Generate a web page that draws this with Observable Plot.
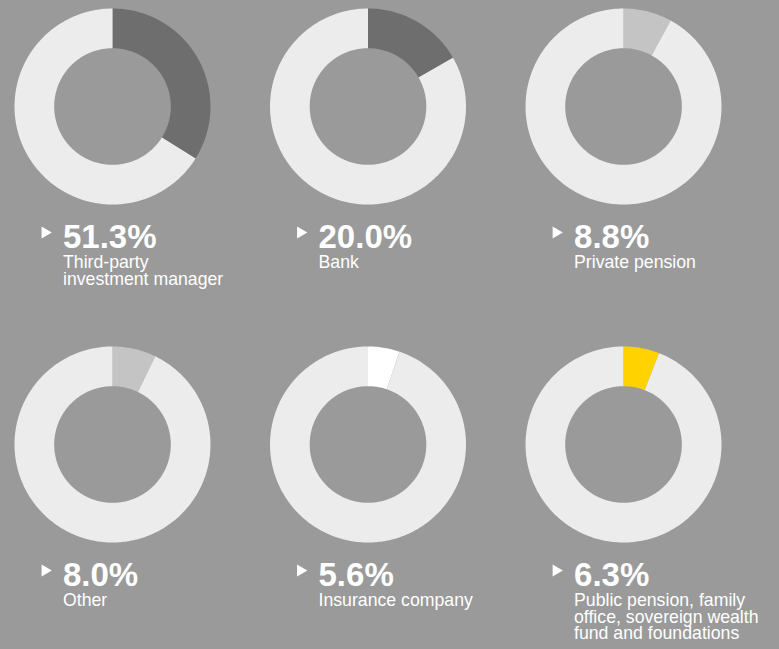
<!DOCTYPE html>
<html>
<head>
<meta charset="utf-8">
<script src="https://cdn.jsdelivr.net/npm/d3@7"></script>
<script src="https://cdn.jsdelivr.net/npm/@observablehq/plot@0.6"></script>
<style>
  html, body { margin: 0; padding: 0; background: #9a9a9a; }
  #chart svg { display: block; }
</style>
</head>
<body>
<div id="chart"></div>
<script>
// Categories (label text under each donut)
const categories = [
  "Third-party\ninvestment manager",
  "Bank",
  "Private pension",
  "Other",
  "Insurance company",
  "Public pension, family\noffice, sovereign wealth\nfund and foundations"
];
// Percentages printed under each donut
const values = [51.3, 20.0, 8.8, 8.0, 5.6, 6.3];
// Share of the ring covered by the highlighted arc, as drawn in the picture (%)
const arcShares = [33.9, 16.7, 8.0, 7.2, 5.2, 5.9];
// Highlight colour of each donut
const segmentColors = ["#6e6e6e", "#6e6e6e", "#c4c4c4", "#c4c4c4", "#ffffff", "#ffd200"];
const ringColor = "#ececec";

const COLS = 3;
const INNER = 0.595; // inner radius relative to outer

const donuts = categories.map((label, i) => ({
  label,
  value: values[i],
  text: values[i].toFixed(1) + "%",
  share: arcShares[i] / 100,
  color: segmentColors[i],
  col: i % COLS,
  row: Math.floor(i / COLS)
}));

// Annular sector outline sampled in data units (radius 1 = outer edge)
function sector(a0, a1) {
  const n = Math.max(4, Math.ceil((a1 - a0) * 360));
  const pts = [];
  for (let k = 0; k <= n; k++) {
    const t = 2 * Math.PI * (a0 + (a1 - a0) * k / n);
    pts.push([Math.sin(t), Math.cos(t)]);
  }
  for (let k = n; k >= 0; k--) {
    const t = 2 * Math.PI * (a0 + (a1 - a0) * k / n);
    pts.push([INNER * Math.sin(t), INNER * Math.cos(t)]);
  }
  return pts;
}

const points = [];
donuts.forEach((d, i) => {
  const pieces = [
    {a0: 0, a1: d.share, color: d.color},
    {a0: d.share, a1: 1, color: ringColor}
  ];
  pieces.forEach((p, k) => {
    for (const [x, y] of sector(p.a0, p.a1)) {
      points.push({x, y, piece: i * 2 + k, color: p.color, col: d.col, row: d.row});
    }
  });
});

const FONT = "'Liberation Sans', Arial, sans-serif";

const chart = Plot.plot({
  width: 779,
  height: 649,
  marginLeft: 14,
  marginRight: 58,
  marginTop: 8,
  marginBottom: 107,
  style: {background: "#9a9a9a", fontFamily: FONT},
  x: {domain: [-1, 1], axis: null},
  y: {domain: [-1, 1], axis: null},
  fx: {domain: [0, 1, 2], paddingInner: 0.233, paddingOuter: 0, axis: null, round: false},
  fy: {domain: [0, 1], paddingInner: 0.42, paddingOuter: 0, axis: null, round: false},
  color: {type: "identity"},
  marks: [
    Plot.line(points, {
      x: "x", y: "y", z: "piece", fill: "color", stroke: "none",
      curve: "linear-closed", fx: "col", fy: "row"
    }),
    Plot.dot(donuts, {
      fx: "col", fy: "row", frameAnchor: "bottom-left", dx: 30.5, dy: 28,
      symbol: "triangle", r: 4.4, rotate: 90, fill: "#ffffff", stroke: "none"
    }),
    Plot.text(donuts, {
      fx: "col", fy: "row", frameAnchor: "bottom-left", dx: 48.5, dy: 43,
      text: "text", textAnchor: "start", lineAnchor: "bottom",
      fontSize: 33, fontWeight: "bold", fill: "#ffffff", fontFamily: FONT
    }),
    Plot.text(donuts, {
      fx: "col", fy: "row", frameAnchor: "bottom-left", dx: 48.5, dy: 52,
      text: "label", textAnchor: "start", lineAnchor: "top", lineHeight: 0.93,
      fontSize: 17.7, fill: "#ffffff", fontFamily: FONT
    })
  ]
});

document.getElementById("chart").appendChild(chart);
</script>
</body>
</html>
